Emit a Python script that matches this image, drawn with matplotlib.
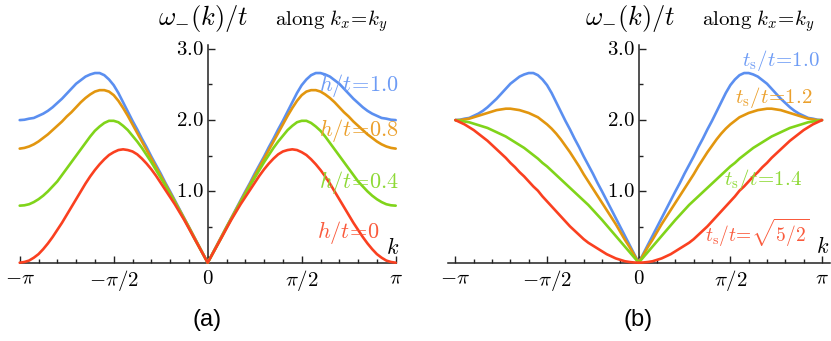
import numpy as np
import matplotlib
matplotlib.use('Agg')
import matplotlib.pyplot as plt

plt.rcParams['mathtext.fontset'] = 'cm'

# k/pi on the right half (read every pi/40), curves are mirror symmetric in k
k_frac = np.linspace(0, 1, 41)

# panel (a): h/t = 1.0, 0.8, 0.4, 0
blue_a = [0, .125, .25, .375, .50, .625, .75, .875, 1.00, 1.12, 1.25, 1.37, 1.49, 1.62,
          1.74, 1.87, 1.99, 2.12, 2.25, 2.38, 2.49, 2.57, 2.63, 2.66, 2.66, 2.64, 2.61,
          2.56, 2.51, 2.44, 2.37, 2.30, 2.24, 2.18, 2.13, 2.09, 2.06, 2.03, 2.02, 2.005, 2.0]
orange_a = [0, .125, .25, .375, .50, .62, .74, .86, .98, 1.10, 1.22, 1.34, 1.46, 1.58,
            1.70, 1.82, 1.94, 2.06, 2.17, 2.27, 2.35, 2.40, 2.42, 2.42, 2.40, 2.36, 2.31,
            2.25, 2.18, 2.11, 2.05, 1.98, 1.92, 1.86, 1.80, 1.75, 1.70, 1.66, 1.63, 1.61, 1.60]
green_a = [0, .12, .24, .36, .49, .61, .73, .85, .96, 1.08, 1.19, 1.30, 1.41, 1.51,
           1.61, 1.70, 1.78, 1.86, 1.92, 1.97, 1.99, 1.99, 1.96, 1.91, 1.85, 1.77, 1.68,
           1.59, 1.50, 1.41, 1.32, 1.23, 1.14, 1.07, 1.00, .94, .89, .85, .82, .805, .80]
red_a = [0, .12, .24, .36, .48, .60, .71, .82, .92, 1.02, 1.12, 1.22, 1.31, 1.39,
         1.46, 1.52, 1.56, 1.58, 1.59, 1.58, 1.55, 1.51, 1.45, 1.38, 1.30, 1.21, 1.11,
         1.00, .89, .78, .67, .56, .46, .36, .27, .19, .12, .07, .03, .01, 0]

# panel (b): ts/t = 1.0, 1.2, 1.4, sqrt(5/2)
blue_b = blue_a
orange_b = [0, .11, .22, .32, .43, .54, .64, .74, .84, .94, 1.04, 1.14, 1.24, 1.35,
            1.45, 1.55, 1.64, 1.73, 1.81, 1.88, 1.94, 1.99, 2.04, 2.07, 2.10, 2.12, 2.14,
            2.15, 2.16, 2.16, 2.15, 2.14, 2.12, 2.10, 2.08, 2.06, 2.04, 2.02, 2.01, 2.00, 2.0]
green_b = [0, .075, .15, .225, .30, .375, .45, .525, .60, .67, .74, .81, .87, .93,
           .99, 1.05, 1.11, 1.17, 1.23, 1.29, 1.35, 1.40, 1.46, 1.51, 1.56, 1.61, 1.65,
           1.69, 1.73, 1.77, 1.80, 1.83, 1.86, 1.89, 1.91, 1.93, 1.95, 1.97, 1.98, 1.99, 2.0]
red_b = [0, .003, .01, .02, .04, .06, .09, .12, .16, .20, .24, .28, .33, .39,
         .45, .51, .58, .65, .72, .79, .86, .93, 1.01, 1.07, 1.14, 1.21, 1.27,
         1.34, 1.40, 1.47, 1.53, 1.59, 1.65, 1.71, 1.76, 1.81, 1.86, 1.90, 1.94, 1.97, 2.0]

labels_a = [r'$h/t\!=\!1.0$', r'$h/t\!=\!0.8$', r'$h/t\!=\!0.4$', r'$h/t\!=\!0$']
labels_b = [r'$t_{\mathrm{s}}/t\!=\!1.0$', r'$t_{\mathrm{s}}/t\!=\!1.2$',
            r'$t_{\mathrm{s}}/t\!=\!1.4$', r'$t_{\mathrm{s}}/t\!=\!\sqrt{5/2}$']

line_colors = ['#5b8ff0', '#e2960f', '#80d41a', '#fa4020']
text_colors = ['#6e9cf5', '#eba02c', '#8ed936', '#fa5a3c']

xtick_vals = [-np.pi, -np.pi / 2, 0, np.pi / 2, np.pi]
xtick_labels = [r'$-\pi$', r'$-\pi/2$', r'$0$', r'$\pi/2$', r'$\pi$']
ytick_vals = [1, 2, 3]
ytick_labels = [r'$1.0$', r'$2.0$', r'$3.0$']


def full(vals):
    k = k_frac * np.pi
    v = np.array(vals)
    return np.concatenate([-k[::-1], k[1:]]), np.concatenate([v[::-1], v[1:]])


W, H = 831, 341
fig = plt.figure(figsize=(W / 100, H / 100), dpi=100)

y0 = 262.7
ypx = 71.3
ytop = 3.05


def make_axes(x0, xpi, xlim):
    left = x0 + xlim[0] / np.pi * xpi
    right = x0 + xlim[1] / np.pi * xpi
    ax = fig.add_axes([left / W, (H - y0) / H, (right - left) / W, ytop * ypx / H])
    ax.set_xlim(*xlim)
    ax.set_ylim(0, ytop)
    for s in ['top', 'right']:
        ax.spines[s].set_visible(False)
    ax.spines['left'].set_position(('data', 0))
    for s in ['left', 'bottom']:
        ax.spines[s].set_color('#222222')
        ax.spines[s].set_linewidth(1.1)
    ax.set_xticks(xtick_vals, xtick_labels, fontsize=15)
    ax.set_xticks(np.arange(-10, 11) * np.pi / 10, minor=True)
    ax.set_yticks(ytick_vals, ytick_labels, fontsize=15)
    ax.set_yticks([0.5, 1.5, 2.5], minor=True)
    ax.tick_params(which='both', direction='in', color='#222222', width=1.0)
    ax.tick_params(which='major', length=5, pad=4)
    ax.tick_params(which='minor', length=3)
    ax.tick_params(axis='y', which='major', length=5, pad=3)
    for lab in ax.get_yticklabels():
        lab.set_verticalalignment('center')
    ax.patch.set_visible(False)
    return ax


ax1 = make_axes(207.7, 188.0, (-np.pi, np.pi))
ax2 = make_axes(638.7, 183.3, (-1.04 * np.pi, 1.045 * np.pi))

for vals, c in zip([blue_a, orange_a, green_a, red_a], line_colors):
    x, y = full(vals)
    ax1.plot(x, y, color=c, lw=1.9, clip_on=False, solid_capstyle='round', zorder=3)
for vals, c in zip([blue_b, orange_b, green_b, red_b], line_colors):
    x, y = full(vals)
    ax2.plot(x, y, color=c, lw=1.9, clip_on=False, solid_capstyle='round', zorder=3)

# curve labels
pos_a = [(1.017, 2.48), (1.017, 1.86), (1.017, 1.13), (0.916, 0.43)]
for (xk, yv), t, c in zip(pos_a, labels_a, text_colors):
    ax1.text(xk * np.pi, yv, t, color=c, fontsize=16, ha='right', va='center',
             clip_on=False, zorder=4)
pos_b = [(0.989, 2.84), (0.95, 2.31), (0.89, 1.16), (0.934, 0.42)]
sizes_b = [15, 15, 15, 14]
for (xk, yv), t, c, fs in zip(pos_b, labels_b, text_colors, sizes_b):
    ax2.text(xk * np.pi, yv, t, color=c, fontsize=fs, ha='right', va='center',
             clip_on=False, zorder=4)

ax1.text(0.985 * np.pi, 0.21, r'$k$', fontsize=16, ha='center', va='center')
ax2.text(1.005 * np.pi, 0.23, r'$k$', fontsize=16, ha='center', va='center')

# titles
fig.text(158 / W, 1 - 25 / H, r'$\omega_{-}(k)/t$', fontsize=19, va='baseline')
fig.text(275 / W, 1 - 25 / H, r'$\mathrm{along}\ k_x\!=\!k_y$', fontsize=15, va='baseline')
fig.text(585 / W, 1 - 25 / H, r'$\omega_{-}(k)/t$', fontsize=19, va='baseline')
fig.text(702 / W, 1 - 25 / H, r'$\mathrm{along}\ k_x\!=\!k_y$', fontsize=15, va='baseline')

fig.text(207 / W, 1 - 320 / H, '(a)', fontsize=17, ha='center', va='center',
         family=['Liberation Sans', 'DejaVu Sans'])
fig.text(638 / W, 1 - 320 / H, '(b)', fontsize=17, ha='center', va='center',
         family=['Liberation Sans', 'DejaVu Sans'])

fig.savefig('out.png', dpi=100)
